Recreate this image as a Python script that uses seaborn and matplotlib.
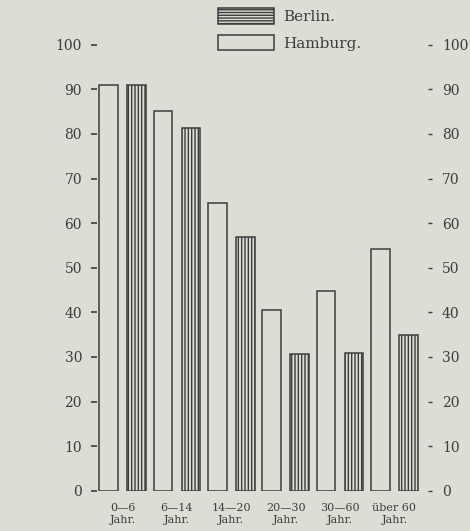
import numpy as np
import pandas as pd
import matplotlib.pyplot as plt
import seaborn as sns
from matplotlib.patches import Patch

# values
age_groups = ['0\u20146\nJahr.', '6\u201414\nJahr.', '14\u201420\nJahr.',
              '20\u201430\nJahr.', '30\u201460\nJahr.', '\u00fcber 60\nJahr.']
hamburg = [91.0, 85.1, 64.4, 40.5, 44.7, 54.3]
berlin = [90.9, 81.3, 56.8, 30.6, 30.9, 34.8]
cities = ['Hamburg', 'Berlin']
y_ticks = [0, 10, 20, 30, 40, 50, 60, 70, 80, 90, 100]

paper = '#dddcd5'
ink = '#3c3c3c'

df = pd.DataFrame({
    'Alter': age_groups * 2,
    'Stadt': ['Hamburg'] * len(hamburg) + ['Berlin'] * len(berlin),
    'Wert': hamburg + berlin,
})

sns.set_style('white')
plt.rcParams['font.family'] = ['DejaVu Serif', 'DejaVu Sans']
plt.rcParams['hatch.color'] = ink
plt.rcParams['hatch.linewidth'] = 1.0

fig = plt.figure(figsize=(4.70, 5.31), dpi=100, facecolor=paper)
ax = fig.add_axes([97 / 470, 40.3 / 531, 331 / 470, 446 / 531])
ax.set_facecolor(paper)

sns.barplot(data=df, x='Alter', y='Wert', hue='Stadt', hue_order=cities,
            order=age_groups, width=1.03, gap=0.34, ax=ax, legend=False)

# restyle the bars like the old print: outlined, Berlin striped
for container, city in zip(ax.containers, cities):
    for bar in container:
        bar.set_facecolor(paper)
        bar.set_edgecolor(ink)
        bar.set_linewidth(1.1)
        if city == 'Berlin':
            bar.set_hatch('|||||')

ax.set_xlim(-0.47, 5.616)
ax.set_ylim(0, 100)
for s in ax.spines.values():
    s.set_visible(False)

ax.set_yticks(y_ticks)
ax.tick_params(axis='y', direction='out', length=4.3, width=1.2, color=ink,
               pad=6.5, labelsize=10, labelcolor=ink)
ax.tick_params(axis='x', length=0, pad=9, labelsize=8, labelcolor=ink)
ax.set_xlabel('')
ax.set_ylabel('')

ax2 = ax.twinx()
ax2.set_ylim(0, 100)
ax2.set_yticks(y_ticks)
for s in ax2.spines.values():
    s.set_visible(False)
ax2.tick_params(axis='y', direction='out', length=3, width=1.0, color=ink,
                pad=7, labelsize=10, labelcolor=ink)

handles = [Patch(facecolor=paper, edgecolor=ink, hatch='------', linewidth=1.1),
           Patch(facecolor=paper, edgecolor=ink, linewidth=1.1)]
fig.legend(handles, ['Berlin.', 'Hamburg.'], loc='upper left',
           bbox_to_anchor=(218 / 470, 1 - 8 / 531), frameon=False,
           fontsize=11, handlelength=3.66, handleheight=1.2,
           handletextpad=0.6, labelspacing=0.7, borderpad=0,
           borderaxespad=0, labelcolor=ink)

fig.savefig('out.png', dpi=100, facecolor=paper)
